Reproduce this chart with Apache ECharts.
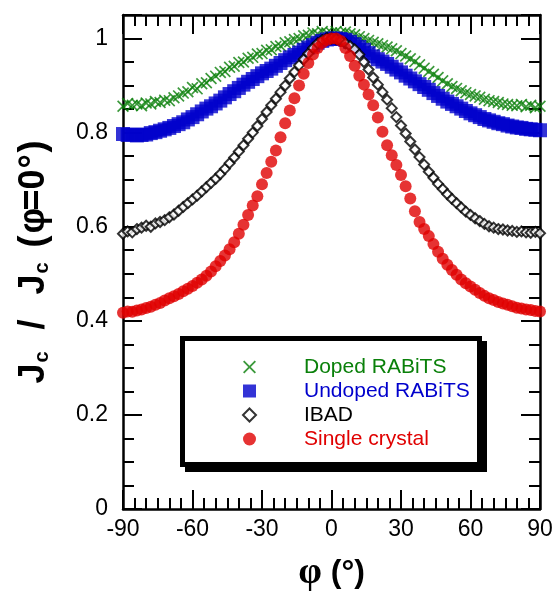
<!DOCTYPE html>
<html>
<head>
<meta charset="utf-8">
<script src="https://cdn.jsdelivr.net/npm/echarts@6/dist/echarts.min.js"></script>
<style>
  html, body { margin: 0; padding: 0; background: #fff; }
  #graf { width: 559px; height: 599px; }
</style>
</head>
<body>
<div id="graf"></div>
<script>
// angulo phi (grados)
var angles = [-90,-88,-86,-84,-82,-80,-78,-76,-74,-72,-70,-68,-66,-64,-62,-60,-58,-56,-54,-52,-50,-48,-46,-44,-42,-40,-38,-36,-34,-32,-30,-28,-26,-24,-22,-20,-18,-16,-14,-12,-10,-8,-6,-4,-2,0,2,4,6,8,10,12,14,16,18,20,22,24,26,28,30,32,34,36,38,40,42,44,46,48,50,52,54,56,58,60,62,64,66,68,70,72,74,76,78,80,82,84,86,88,90];

// Jc / Jc(phi=0) por muestra
var doped = [0.856,0.862,0.858,0.861,0.857, 0.863,0.861,0.866,0.864,0.869, 0.868,0.874,0.878,0.884,0.887, 0.896,0.893,0.904,0.906,0.915, 0.920,0.928,0.930,0.939,0.941, 0.949,0.950,0.958,0.960,0.967, 0.968,0.975,0.976,0.983,0.984, 0.991,0.993,0.998,1.000,1.006, 1.007,1.012,1.010,1.015,1.012,
  1.012,
  1.015,1.012,1.014,1.010,1.008, 1.004,1.000,0.996,0.992,0.989, 0.985,0.982,0.978,0.974,0.968, 0.963,0.957,0.951,0.944,0.937, 0.930,0.924,0.917,0.910,0.904, 0.898,0.894,0.889,0.885,0.881, 0.878,0.875,0.871,0.868,0.866, 0.864,0.861,0.860,0.858,0.857, 0.860,0.855,0.858,0.853,0.856];
var undoped = [0.797,0.795,0.796,0.794,0.795, 0.796,0.799,0.801,0.804,0.807, 0.810,0.814,0.818,0.822,0.828, 0.833,0.839,0.845,0.851,0.856, 0.862,0.868,0.875,0.882,0.888, 0.895,0.902,0.908,0.914,0.920, 0.926,0.931,0.936,0.942,0.948, 0.954,0.960,0.965,0.970,0.976, 0.981,0.986,0.991,0.995,0.998,
  1.000,
  1.000,0.999,0.997,0.993,0.988, 0.982,0.976,0.969,0.962,0.956, 0.951,0.946,0.940,0.934,0.928, 0.921,0.915,0.909,0.903,0.897, 0.891,0.884,0.878,0.872,0.866, 0.861,0.856,0.851,0.846,0.841, 0.837,0.833,0.829,0.826,0.823, 0.820,0.818,0.815,0.813,0.811, 0.810,0.808,0.807,0.806,0.805];
var ibad = [0.585,0.590,0.588,0.595,0.598, 0.602,0.600,0.607,0.610,0.614, 0.620,0.626,0.634,0.642,0.650, 0.658,0.666,0.675,0.684,0.693, 0.702,0.712,0.723,0.735,0.747, 0.760,0.773,0.787,0.800,0.814, 0.829,0.844,0.858,0.872,0.886, 0.900,0.915,0.929,0.943,0.956, 0.968,0.980,0.990,0.997,1.001,
  1.000,
  0.999,0.995,0.990,0.984,0.977, 0.966,0.950,0.934,0.917,0.902, 0.886,0.870,0.852,0.833,0.815, 0.798,0.781,0.764,0.748,0.732, 0.717,0.704,0.691,0.680,0.669, 0.659,0.650,0.641,0.632,0.625, 0.618,0.612,0.606,0.601,0.598, 0.595,0.594,0.592,0.591,0.589, 0.590,0.588,0.587,0.589,0.586];
var single = [0.417,0.420,0.419,0.422,0.424, 0.427,0.430,0.434,0.438,0.443, 0.448,0.452,0.457,0.463,0.468, 0.474,0.481,0.488,0.496,0.505, 0.516,0.527,0.539,0.552,0.567, 0.585,0.604,0.625,0.645,0.665, 0.690,0.714,0.738,0.762,0.790, 0.820,0.847,0.873,0.900,0.925, 0.948,0.966,0.980,0.991,0.997,
  1.000,
  1.000,0.995,0.980,0.963,0.942, 0.921,0.902,0.881,0.858,0.832, 0.802,0.773,0.752,0.731,0.710, 0.686,0.660,0.633,0.610,0.595, 0.580,0.563,0.547,0.532,0.519, 0.508,0.498,0.488,0.480,0.473, 0.466,0.459,0.453,0.448,0.444, 0.440,0.437,0.434,0.431,0.428, 0.426,0.424,0.423,0.421,0.420];

var names = ['Doped RABiTS', 'Undoped RABiTS', 'IBAD', 'Single crystal'];
var colors = ['#0a800a', '#0000cc', '#000000', '#e00000'];

var pares = function(vals){
  return angles.map(function(a, i){ return [a, vals[i]]; });
};

var cruz = 'path://M0,1L1,0L5,4L9,0L10,1L6,5L10,9L9,10L5,6L1,10L0,9L4,5Z';
var fuente = 'Liberation Sans';

// ejes: principal con etiquetas, eje de ticks menores, y los espejos arriba/derecha
var ejeX = function(pos, interval, len, labels){
  return {
    type: 'value', position: pos, min: -90, max: 90, interval: interval,
    axisLine: { show: labels !== null, onZero: false, lineStyle: { color: '#000', width: 2.5 } },
    axisTick: { inside: true, length: len, lineStyle: { color: '#000', width: 2 } },
    axisLabel: { show: labels === true, margin: 9, color: '#000', fontSize: 23, fontFamily: fuente },
    splitLine: { show: false }
  };
};
var ejeY = function(pos, interval, len, labels){
  return {
    type: 'value', position: pos, min: 0, max: 1.05, interval: interval,
    axisLine: { show: labels !== null, onZero: false, lineStyle: { color: '#000', width: 2.5 } },
    axisTick: { inside: true, length: len, lineStyle: { color: '#000', width: 2 } },
    axisLabel: {
      show: labels === true, margin: 15, color: '#000', fontSize: 23, fontFamily: fuente,
      formatter: function(v){
        return Math.abs(v * 5 - Math.round(v * 5)) < 1e-6 ? String(+v.toFixed(1)) : '';
      }
    },
    splitLine: { show: false }
  };
};

var xs = [ejeX('bottom', 30, 19, true), ejeX('bottom', 5, 11, null), ejeX('top', 30, 19, false), ejeX('top', 5, 11, null)];
xs[0].name = '{p|φ}{t| (°)}';
xs[0].nameLocation = 'middle';
xs[0].nameGap = 45;
xs[0].nameTextStyle = {
  rich: {
    p: { fontFamily: 'Liberation Serif', fontWeight: 'bold', fontSize: 38, color: '#000' },
    t: { fontFamily: fuente, fontWeight: 'bold', fontSize: 32, color: '#000' }
  }
};

// titulo del eje y: cada caracter con su ancho
var ys = [ejeY('left', 0.2, 19, true), ejeY('left', 0.05, 11, null), ejeY('right', 0.2, 19, false), ejeY('right', 0.05, 11, null)];
ys[0].name = '{j|J}{s|c}{b|/}{j2|J}{s2|c}{a|(}{p|φ}{e|=}{z|0}{g|°}{c|)}';
ys[0].nameLocation = 'middle';
ys[0].nameGap = 71;
var bold36 = { fontFamily: fuente, fontWeight: 'bold', fontSize: 36, color: '#000', verticalAlign: 'bottom', align: 'left' };
var sub = { fontFamily: fuente, fontWeight: 'bold', fontSize: 20, color: '#000', verticalAlign: 'bottom', align: 'left' };
var w = function(base, width){ return Object.assign({ width: width }, base); };
ys[0].nameTextStyle = {
  rich: {
    j: w(bold36, 21), s: w(sub, 33), b: w(bold36, 35), j2: w(bold36, 21), s2: w(sub, 26),
    a: w(bold36, 14), p: w(bold36, 23), e: w(bold36, 21), z: w(bold36, 21), g: w(bold36, 16), c: w(bold36, 12)
  }
};

var myChart = echarts.init(document.getElementById('graf'));

var option = {
  backgroundColor: '#fff',
  animation: false,
  grid: { left: 123, right: 19, top: 15, bottom: 90, containLabel: false },
  xAxis: xs,
  yAxis: ys,
  graphic: [
    // recuadro de la leyenda con sombra
    { type: 'rect', z: 5, shape: { x: 185, y: 341, width: 302, height: 131 }, style: { fill: '#000' } },
    { type: 'rect', z: 5, shape: { x: 180, y: 336, width: 302, height: 131 }, style: { fill: '#000' } },
    { type: 'rect', z: 5, shape: { x: 185, y: 341, width: 292, height: 121 }, style: { fill: '#fff' } }
  ],
  legend: {
    z: 10,
    orient: 'vertical',
    left: 242,
    top: 355,
    padding: 0,
    itemGap: 0,
    itemWidth: 13,
    itemHeight: 13,
    selectedMode: false,
    textStyle: { fontFamily: fuente, fontSize: 21, lineHeight: 24, padding: [0, 0, 0, 43] },
    data: names.map(function(n, i){ return { name: n, textStyle: { color: colors[i] } }; })
  },
  series: [
    {
      name: names[0], type: 'scatter', symbol: cruz, symbolSize: 12,
      itemStyle: { color: colors[0] },
      data: pares(doped)
    },
    {
      name: names[1], type: 'scatter', symbol: 'rect', symbolSize: 14,
      itemStyle: { color: colors[1] },
      data: pares(undoped)
    },
    {
      name: names[2], type: 'scatter', symbol: 'diamond', symbolSize: 10,
      itemStyle: { color: '#fff', borderColor: '#000', borderWidth: 2 },
      data: pares(ibad)
    },
    {
      name: names[3], type: 'scatter', symbol: 'circle', symbolSize: 12,
      itemStyle: { color: colors[3] },
      data: pares(single)
    }
  ]
};

myChart.setOption(option);
</script>
</body>
</html>
